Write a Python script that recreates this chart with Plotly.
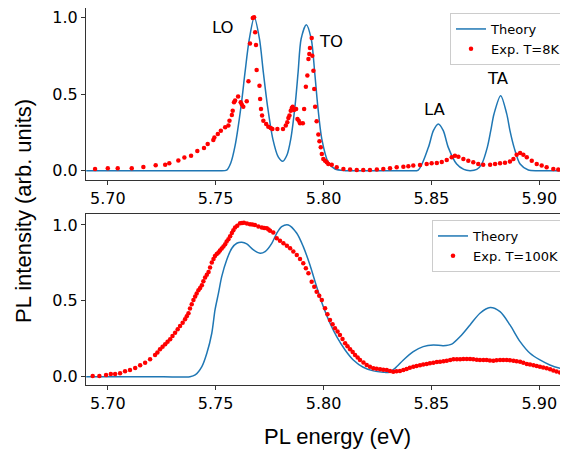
import plotly.graph_objects as go

# ---------------- data ----------------
# Top panel, T = 8 K
theory8_x = [5.690, 5.700, 5.720, 5.740, 5.750, 5.7551, 5.7570, 5.7590, 5.7618, 5.7636, 5.7656,
             5.7679, 5.7703, 5.7721, 5.7740, 5.7765, 5.7790, 5.7811, 5.7830, 5.7848, 5.7868,
             5.7882, 5.7896, 5.7920, 5.7943, 5.7959, 5.7973, 5.7992, 5.8022, 5.8053, 5.8100,
             5.8200, 5.8300, 5.8400, 5.8439, 5.8486, 5.8509, 5.8532, 5.8555, 5.8578, 5.8617,
             5.8650, 5.8679, 5.8710, 5.8733, 5.8759, 5.8775, 5.8790, 5.8821, 5.8849, 5.8864,
             5.8883, 5.8911, 5.8949, 5.9000, 5.9050, 5.9135]
theory8_y = [0.0, 0.0, 0.0, 0.0, 0.0, 0.003, 0.05, 0.163, 0.424, 0.641, 0.859,
             1.0, 0.859, 0.641, 0.424, 0.206, 0.09, 0.061, 0.10, 0.206, 0.424,
             0.641, 0.859, 0.952, 0.859, 0.641, 0.424, 0.206, 0.054, 0.011, 0.0,
             0.0, 0.0, 0.0, 0.004, 0.152, 0.261, 0.305, 0.261, 0.152, 0.043,
             0.008, 0.0, 0.008, 0.043, 0.152, 0.261, 0.37, 0.489, 0.37, 0.261,
             0.152, 0.043, 0.004, 0.0, 0.0, 0.0]

exp8_x = [5.6941, 5.7000, 5.7046, 5.7111, 5.7165, 5.7222, 5.7266, 5.7285, 5.7327, 5.7355,
          5.7386, 5.7415, 5.7446, 5.7463, 5.7489, 5.7494, 5.7510, 5.7524, 5.7544, 5.7559,
          5.7564, 5.7575, 5.7579, 5.7585, 5.7590, 5.7604, 5.7616, 5.7621, 5.7628, 5.7644,
          5.7652, 5.7659, 5.7672, 5.7678, 5.7683, 5.7687, 5.7690, 5.7703, 5.7706, 5.7710,
          5.7715, 5.7721, 5.7734, 5.7744, 5.7755, 5.7763, 5.7786, 5.7812, 5.7825, 5.7832,
          5.7837, 5.7842, 5.7848, 5.7853, 5.7857, 5.7863, 5.7873, 5.7879, 5.7885, 5.7891,
          5.7904, 5.7910, 5.7918, 5.7925, 5.7930, 5.7934, 5.7937, 5.7945, 5.7948, 5.7953,
          5.7957, 5.7961, 5.7968, 5.7976, 5.7981, 5.7987, 5.7992, 5.7999, 5.8007, 5.8015,
          5.8022, 5.8038, 5.8061, 5.8092, 5.8123, 5.8154, 5.8184, 5.8215, 5.8247, 5.8277,
          5.8308, 5.8339, 5.8370, 5.8393, 5.8416, 5.8447, 5.8478, 5.8501, 5.8525, 5.8548,
          5.8571, 5.8594, 5.8609, 5.8625, 5.8648, 5.8671, 5.8694, 5.8717, 5.8740, 5.8772,
          5.8795, 5.8818, 5.8841, 5.8864, 5.8880, 5.8895, 5.8911, 5.8926, 5.8942, 5.8965,
          5.8988, 5.9011, 5.9034, 5.9065, 5.9088]
exp8_y = [0.011, 0.015, 0.015, 0.015, 0.024, 0.035, 0.039, 0.048, 0.067, 0.085,
          0.098, 0.128, 0.148, 0.174, 0.200, 0.217, 0.239, 0.261, 0.283, 0.294,
          0.326, 0.363, 0.391, 0.446, 0.457, 0.483, 0.446, 0.431, 0.417, 0.452,
          0.583, 0.830, 0.996, 1.0, 0.902, 0.820, 0.657, 0.554, 0.468, 0.402,
          0.359, 0.326, 0.304, 0.287, 0.278, 0.272, 0.272, 0.272, 0.294, 0.315,
          0.344, 0.359, 0.391, 0.409, 0.417, 0.396, 0.402, 0.337, 0.326, 0.309,
          0.309, 0.402, 0.548, 0.620, 0.729, 0.761, 0.800, 0.866, 0.750, 0.652,
          0.533, 0.417, 0.322, 0.235, 0.191, 0.152, 0.109, 0.076, 0.065, 0.054,
          0.044, 0.039, 0.022, 0.011, 0.007, 0.004, 0.004, 0.004, 0.007, 0.011,
          0.015, 0.022, 0.026, 0.028, 0.033, 0.037, 0.044, 0.048, 0.050, 0.056,
          0.070, 0.087, 0.098, 0.091, 0.076, 0.065, 0.054, 0.044, 0.039, 0.039,
          0.044, 0.048, 0.052, 0.059, 0.076, 0.104, 0.115, 0.104, 0.087, 0.065,
          0.044, 0.033, 0.022, 0.011, 0.007]

# Bottom panel, T = 100 K
theory100_x = [5.690, 5.700, 5.720, 5.7381, 5.7405, 5.7436, 5.7459, 5.7482, 5.7497, 5.7513,
               5.7528, 5.7551, 5.7575, 5.7598, 5.7621, 5.7644, 5.7675, 5.7706, 5.7729, 5.7760,
               5.7783, 5.7806, 5.7837, 5.7876, 5.7906, 5.7937, 5.7968, 5.7999, 5.8030, 5.8061,
               5.8100, 5.8138, 5.8184, 5.8231, 5.8277, 5.8300, 5.8331, 5.8370, 5.8416, 5.8462,
               5.8509, 5.8555, 5.8594, 5.8633, 5.8679, 5.8725, 5.8772, 5.8818, 5.8864, 5.8911,
               5.8957, 5.9003, 5.9049, 5.9096, 5.9133]
theory100_y = [0.0, 0.0, 0.0, 0.0, 0.011, 0.066, 0.154, 0.286, 0.440, 0.550,
               0.659, 0.769, 0.846, 0.879, 0.886, 0.875, 0.835, 0.813, 0.824, 0.879,
               0.945, 0.989, 1.0, 0.945, 0.857, 0.736, 0.593, 0.461, 0.352, 0.264,
               0.176, 0.110, 0.062, 0.038, 0.029, 0.028, 0.055, 0.110, 0.165, 0.198,
               0.209, 0.204, 0.214, 0.264, 0.341, 0.418, 0.455, 0.428, 0.341, 0.231,
               0.154, 0.110, 0.077, 0.055, 0.044]

# experimental 100 K dots, first pass of readings
exp100_x = [5.6930, 5.6961, 5.6992, 5.7014, 5.7034, 5.7057, 5.7080, 5.7103, 5.7127, 5.7150,
            5.7173, 5.7196, 5.7219, 5.7242, 5.7266, 5.7289, 5.7312, 5.7335, 5.7358, 5.7374,
            5.7389, 5.7405, 5.7420, 5.7436, 5.7451, 5.7467, 5.7482, 5.7497, 5.7513, 5.7528,
            5.7544, 5.7559, 5.7575, 5.7590, 5.7613, 5.7631, 5.7659, 5.7682, 5.7714, 5.7737,
            5.7752, 5.7783, 5.7814, 5.7845, 5.7876, 5.7906, 5.7930, 5.7945, 5.7968, 5.7992,
            5.8007, 5.8030, 5.8053, 5.8076, 5.8100, 5.8123, 5.8146, 5.8169, 5.8200, 5.8231,
            5.8262, 5.8293, 5.8323, 5.8354, 5.8385, 5.8416, 5.8447, 5.8478, 5.8509, 5.8540,
            5.8571, 5.8602, 5.8633, 5.8664, 5.8694, 5.8725, 5.8756, 5.8787, 5.8818, 5.8849,
            5.8880, 5.8911, 5.8942, 5.8973, 5.9003, 5.9034, 5.9065, 5.9096]
exp100_y = [0.004, 0.004, 0.011, 0.018, 0.018, 0.022, 0.035, 0.044, 0.057, 0.075,
            0.092, 0.114, 0.143, 0.180, 0.213, 0.246, 0.290, 0.334, 0.378, 0.418,
            0.477, 0.528, 0.569, 0.602, 0.653, 0.690, 0.752, 0.796, 0.818, 0.844,
            0.873, 0.906, 0.946, 0.983, 1.011, 1.015, 1.004, 1.0, 0.983, 0.978,
            0.962, 0.912, 0.879, 0.846, 0.802, 0.747, 0.681, 0.626, 0.560, 0.506,
            0.451, 0.374, 0.319, 0.275, 0.220, 0.181, 0.143, 0.110, 0.077, 0.055,
            0.049, 0.044, 0.033, 0.038, 0.051, 0.066, 0.075, 0.084, 0.092, 0.099,
            0.105, 0.115, 0.115, 0.117, 0.115, 0.110, 0.110, 0.105, 0.110, 0.110,
            0.105, 0.099, 0.084, 0.075, 0.066, 0.055, 0.040, 0.027]

# experimental 100 K dots, second pass (dots lying between the first-pass ones)
exp100_more_x = [5.7230, 5.7254, 5.7277, 5.7300, 5.7324, 5.7347, 5.7366, 5.7381, 5.7397, 5.7412,
                 5.7428, 5.7443, 5.7459, 5.7474, 5.7490, 5.7505, 5.7520, 5.7536, 5.7551, 5.7567,
                 5.7582, 5.7600, 5.7622, 5.7645, 5.7670, 5.7698, 5.7725, 5.7745, 5.7767, 5.7798,
                 5.7830, 5.7860, 5.7891, 5.7918, 5.7957, 5.7980, 5.8018, 5.8042, 5.8065, 5.8088,
                 5.8111, 5.8135, 5.8158, 5.8185, 5.8215, 5.8246, 5.8277, 5.8308, 5.8338, 5.8370,
                 5.8400, 5.8431, 5.8462, 5.8493, 5.8525, 5.8556, 5.8587, 5.8618, 5.8648, 5.8679,
                 5.8710, 5.8741, 5.8771, 5.8802, 5.8833, 5.8864, 5.8895, 5.8926, 5.8957, 5.8988,
                 5.9018, 5.9050, 5.9080]
exp100_more_y = [0.160, 0.197, 0.230, 0.268, 0.312, 0.356, 0.398, 0.450, 0.505, 0.548,
                 0.585, 0.628, 0.672, 0.720, 0.775, 0.808, 0.832, 0.858, 0.890, 0.926,
                 0.965, 0.995, 1.013, 1.010, 1.002, 0.990, 0.980, 0.970, 0.950, 0.895,
                 0.862, 0.825, 0.775, 0.715, 0.593, 0.533, 0.412, 0.346, 0.297, 0.248,
                 0.200, 0.162, 0.126, 0.093, 0.065, 0.052, 0.046, 0.038, 0.035, 0.044,
                 0.058, 0.070, 0.080, 0.088, 0.096, 0.102, 0.110, 0.115, 0.116, 0.116,
                 0.112, 0.110, 0.107, 0.108, 0.110, 0.108, 0.102, 0.092, 0.080, 0.070,
                 0.060, 0.048, 0.034]

x_ticks = [5.70, 5.75, 5.80, 5.85, 5.90]
x_tick_labels = ["5.70", "5.75", "5.80", "5.85", "5.90"]
y_ticks = [0.0, 0.5, 1.0]
y_tick_labels = ["0.0", "0.5", "1.0"]

peak_labels = ["LO", "TO", "LA", "TA"]
peak_label_x = [5.7536, 5.8035, 5.8518, 5.8809]
peak_label_y = [0.933, 0.841, 0.398, 0.603]

# ---------------- figure ----------------
BLUE = "#1f77b4"
RED = "#ff0000"
TICKFONT = dict(family="DejaVu Sans", size=16, color="#000")

fig = go.Figure()
fig.add_trace(go.Scatter(x=theory8_x, y=theory8_y, mode="lines",
                         line=dict(color=BLUE, width=1.5, shape="spline", smoothing=0.8),
                         name="Theory", xaxis="x", yaxis="y", legend="legend"))
fig.add_trace(go.Scatter(x=exp8_x, y=exp8_y, mode="markers", marker=dict(color=RED, size=4.5),
                         name="Exp. T=8K", xaxis="x", yaxis="y", legend="legend"))
fig.add_trace(go.Scatter(x=theory100_x, y=theory100_y, mode="lines",
                         line=dict(color=BLUE, width=1.5, shape="spline", smoothing=0.8),
                         name="Theory", xaxis="x2", yaxis="y2", legend="legend2"))
fig.add_trace(go.Scatter(x=exp100_x + exp100_more_x, y=exp100_y + exp100_more_y, mode="markers",
                         marker=dict(color=RED, size=4.5),
                         name="Exp. T=100K", xaxis="x2", yaxis="y2", legend="legend2"))

# The page body has an 8px margin, so the figure is drawn 8px smaller and
# all page-pixel positions are shifted by that offset.
OFF = 8
PAGE_W, PAGE_H = 568, 452
W, H = PAGE_W - OFF, PAGE_H - OFF
L, R, T, B = 86 - OFF, 0, 0, PAGE_H - 385
ph = H - T - B
pw = W - L - R


def ydom(top_page, bottom_page):
    top, bot = top_page - OFF, bottom_page - OFF
    return [max(0.0, (H - B - bot) / ph), min(1.0, (H - B - top) / ph)]


def px2paper_x(xp):
    return (xp - OFF - L) / pw


def px2paper_y(yp):
    return (H - B - (yp - OFF)) / ph


xcommon = dict(range=[5.6899, 5.9133], tickvals=x_ticks, ticktext=x_tick_labels, showline=True, mirror=True,
               linecolor="#333", linewidth=1, ticks="outside", ticklen=4, tickcolor="#333",
               showgrid=False, zeroline=False, tickfont=TICKFONT, ticklabeloverflow="allow")
ycommon = dict(tickvals=y_ticks, ticktext=y_tick_labels, showline=True, linecolor="#333", linewidth=1,
               ticks="outside", ticklen=4, tickcolor="#333", showgrid=False, zeroline=False, tickfont=TICKFONT,
               ticklabeloverflow="allow")

legend_common = dict(bgcolor="rgba(255,255,255,0.8)", bordercolor="#cccccc", borderwidth=1,
                     font=dict(family="DejaVu Sans", size=13, color="#000"), xanchor="right", yanchor="top",
                     tracegroupgap=0, itemwidth=30)

annotations = [dict(x=px, y=py, xref="x", yref="y", text=t, showarrow=False,
                    xanchor="center", yanchor="middle",
                    font=dict(family="DejaVu Sans", size=16.5, color="#000"))
               for t, px, py in zip(peak_labels, peak_label_x, peak_label_y)]
annotations.append(dict(x=px2paper_x(337), y=px2paper_y(436), xref="paper", yref="paper",
                        xanchor="center", yanchor="middle",
                        text="PL energy (eV)", showarrow=False,
                        font=dict(family="Liberation Sans", size=22, color="#000")))
annotations.append(dict(x=px2paper_x(23), y=px2paper_y(211), xref="paper", yref="paper",
                        xanchor="center", yanchor="middle",
                        text="PL intensity (arb. units)", showarrow=False, textangle=-90,
                        font=dict(family="Liberation Sans", size=22, color="#000")))

fig.update_layout(
    width=W, height=H, margin=dict(l=L, r=R, t=T, b=B, pad=0), autosize=False,
    paper_bgcolor="white", plot_bgcolor="white",
    font=dict(family="DejaVu Sans", color="#000"),
    xaxis=dict(domain=[0, 1], anchor="y", **xcommon),
    yaxis=dict(domain=ydom(7, 180), anchor="x", range=[-0.061, 1.061], **ycommon),
    xaxis2=dict(domain=[0, 1], anchor="y2", **xcommon),
    yaxis2=dict(domain=ydom(214, 385), anchor="x2", range=[-0.055, 1.072], **ycommon),
    legend=dict(x=px2paper_x(566), y=px2paper_y(13), **legend_common),
    legend2=dict(x=px2paper_x(565), y=px2paper_y(220), **legend_common),
    annotations=annotations,
    showlegend=True,
)

fig.write_html("out.html")
